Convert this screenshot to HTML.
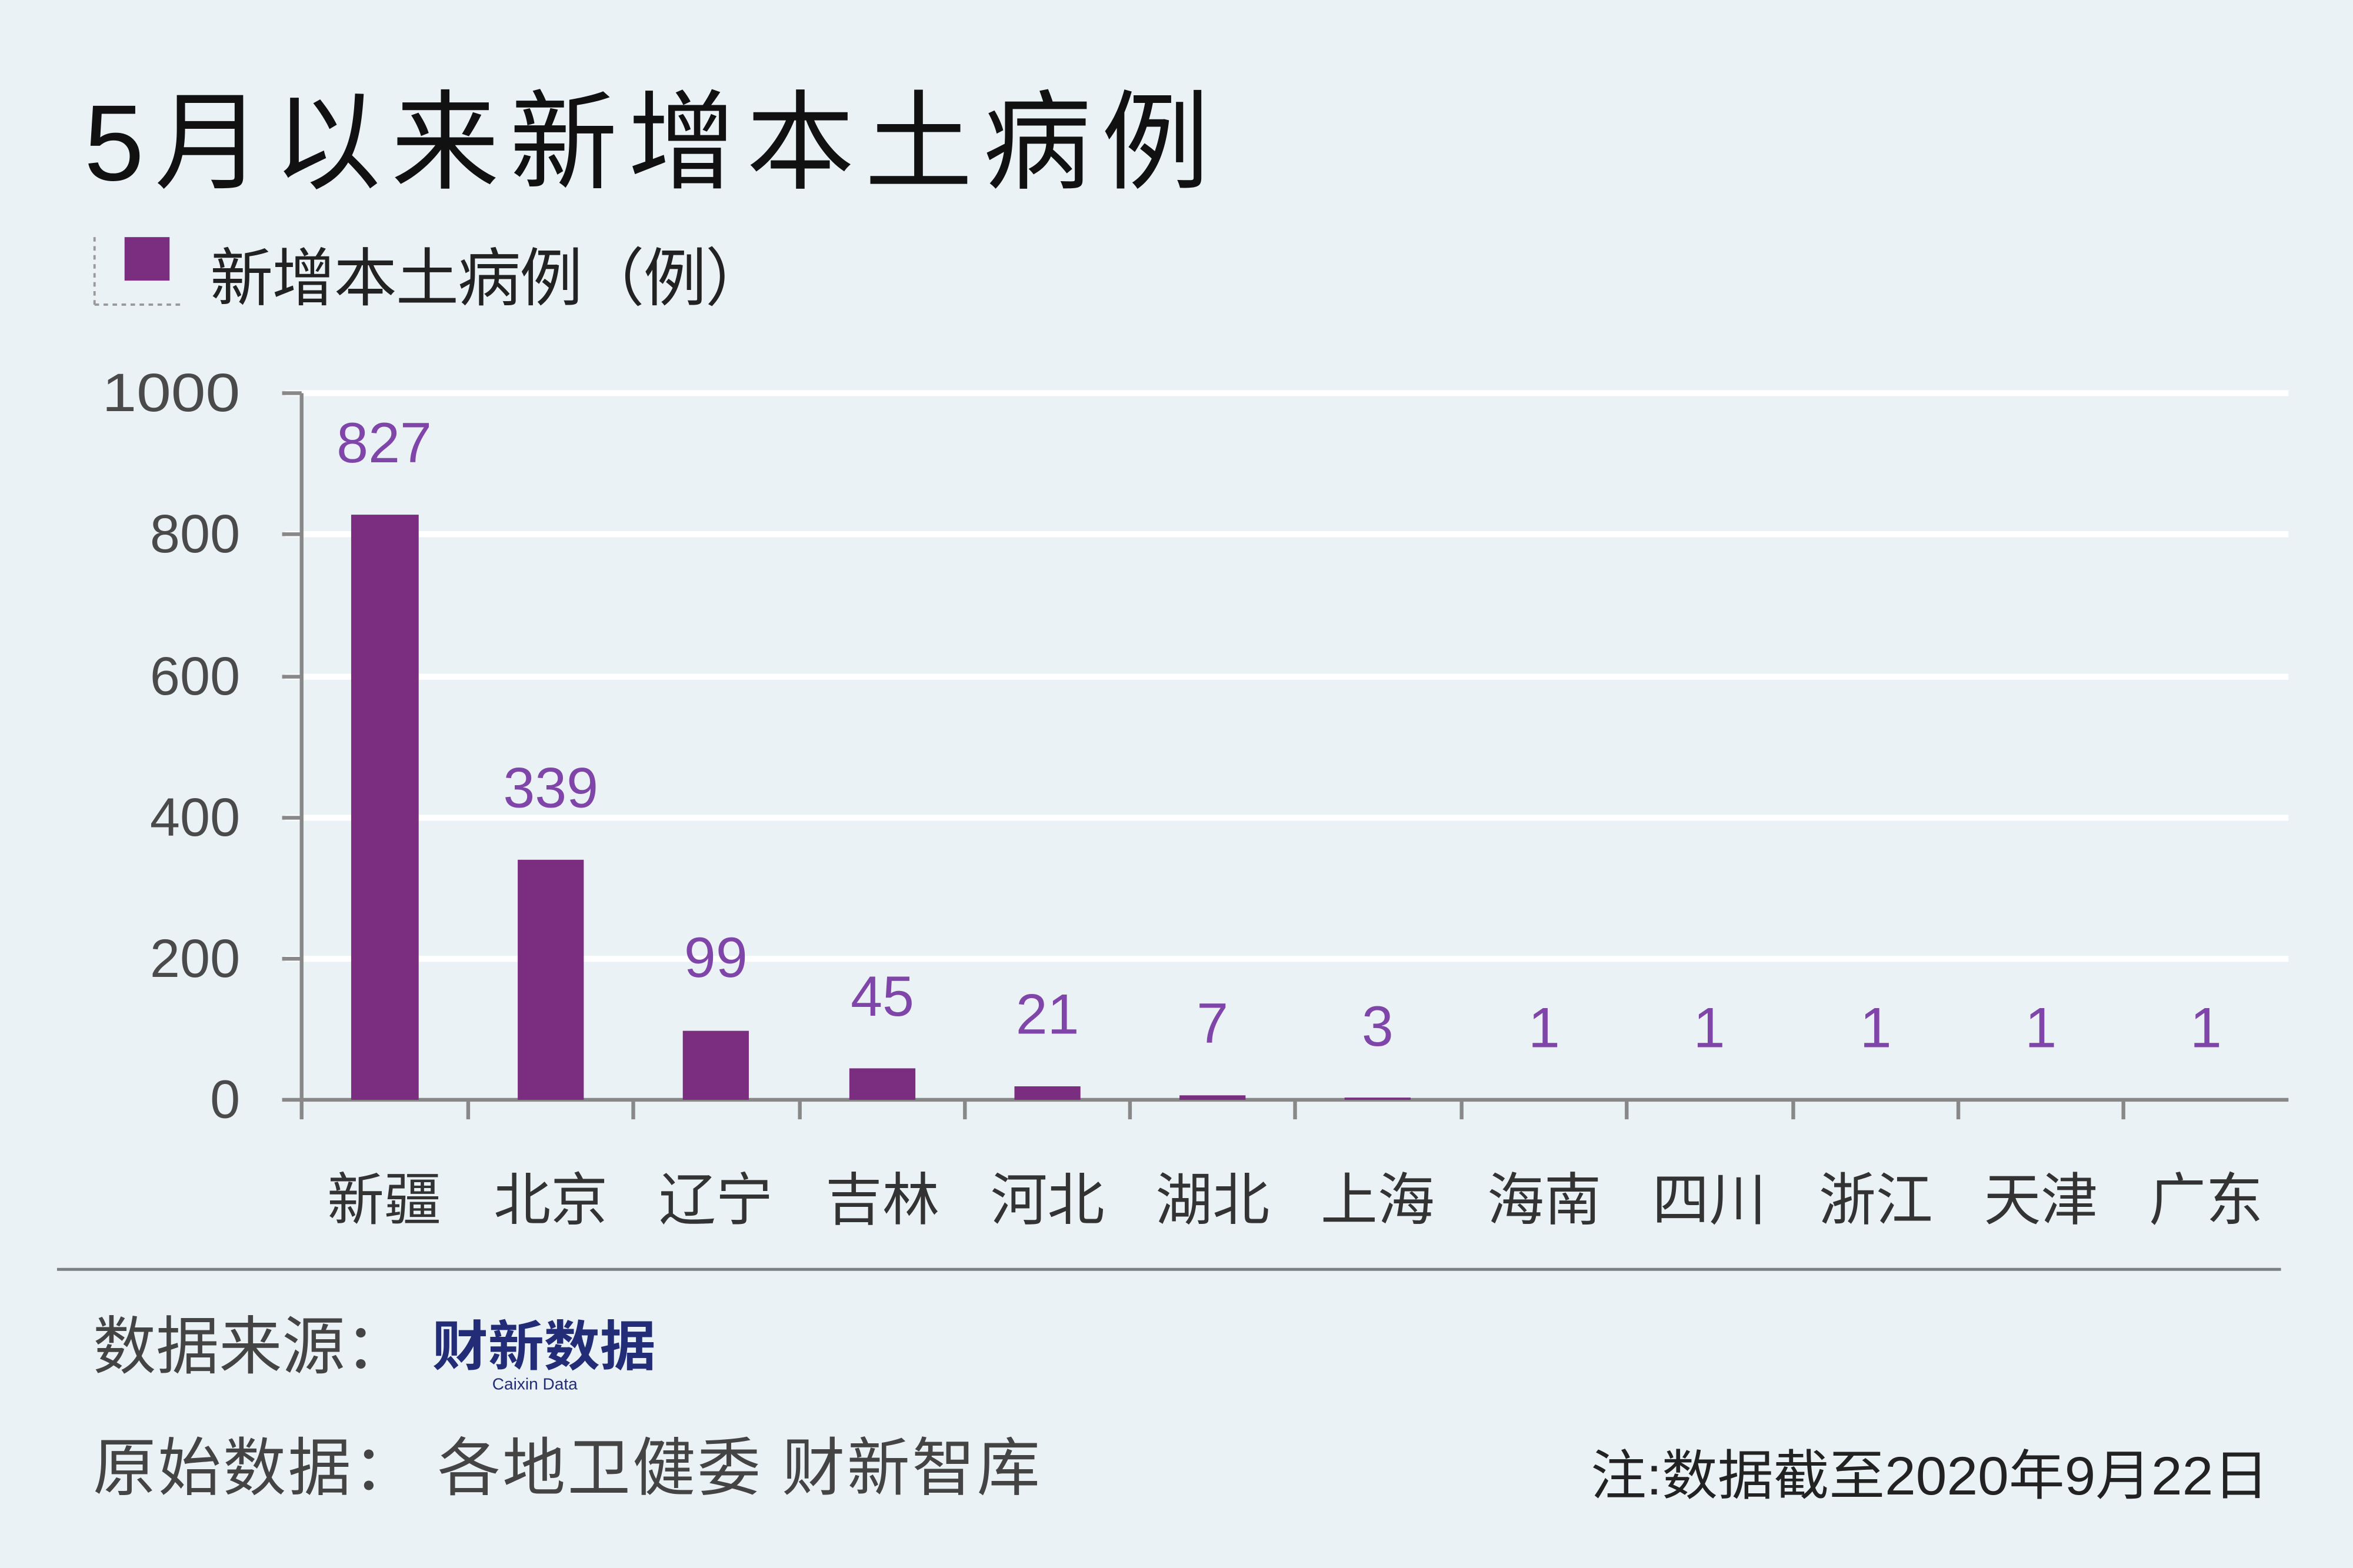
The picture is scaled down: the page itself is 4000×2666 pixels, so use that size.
<!DOCTYPE html>
<html><head><meta charset="utf-8"><style>
html,body{margin:0;padding:0;background:#eaf2f5;}
svg{display:block}
text{font-family:"Liberation Sans","Noto Sans CJK SC",sans-serif;}
</style></head><body>
<svg width="4000" height="2666" viewBox="0 0 1568 1045" xmlns="http://www.w3.org/2000/svg">
<rect width="1568" height="1045" fill="#eaf2f5"/>
<text x="56" y="120" font-size="72" fill="#111" textLength="750" lengthAdjust="spacing">5月以来新增本土病例</text>
<line x1="63" y1="158" x2="63" y2="203" stroke="#999" stroke-width="1.5" stroke-dasharray="3,3"/>
<line x1="63" y1="203" x2="123" y2="203" stroke="#999" stroke-width="1.5" stroke-dasharray="3,3"/>
<rect x="83" y="158" width="30" height="29" fill="#7b2d7f"/>
<text x="140" y="200" font-size="42" fill="#222" textLength="372" lengthAdjust="spacing">新增本土病例（例）</text>
<g stroke="#fff" stroke-width="4">
<line x1="190" y1="262" x2="1525" y2="262"/><line x1="190" y1="356" x2="1525" y2="356"/>
<line x1="190" y1="451" x2="1525" y2="451"/><line x1="190" y1="545" x2="1525" y2="545"/>
<line x1="190" y1="639" x2="1525" y2="639"/></g>
<g stroke="#888" stroke-width="2.5">
<line x1="201" y1="262" x2="201" y2="733"/>
<line x1="188" y1="262" x2="201" y2="262"/><line x1="188" y1="356" x2="201" y2="356"/>
<line x1="188" y1="451" x2="201" y2="451"/><line x1="188" y1="545" x2="201" y2="545"/>
<line x1="188" y1="639" x2="201" y2="639"/><line x1="188" y1="733" x2="201" y2="733"/>
<line x1="201" y1="733" x2="1525" y2="733"/>
<line x1="201" y1="733" x2="201" y2="746"/><line x1="312" y1="733" x2="312" y2="746"/>
<line x1="422" y1="733" x2="422" y2="746"/><line x1="533" y1="733" x2="533" y2="746"/>
<line x1="643" y1="733" x2="643" y2="746"/><line x1="753" y1="733" x2="753" y2="746"/>
<line x1="863" y1="733" x2="863" y2="746"/><line x1="974" y1="733" x2="974" y2="746"/>
<line x1="1084" y1="733" x2="1084" y2="746"/><line x1="1195" y1="733" x2="1195" y2="746"/>
<line x1="1305" y1="733" x2="1305" y2="746"/><line x1="1415" y1="733" x2="1415" y2="746"/>
</g>
<g font-size="36" fill="#4a4a4a" text-anchor="end">
<text x="160" y="274" textLength="92" lengthAdjust="spacingAndGlyphs">1000</text><text x="160" y="368">800</text><text x="160" y="463">600</text>
<text x="160" y="557">400</text><text x="160" y="651">200</text><text x="160" y="745">0</text></g>
<g fill="#7b2d7f">
<rect x="234" y="343" width="45" height="390"/>
<rect x="345" y="573" width="44" height="160"/>
<rect x="455" y="687" width="44" height="46"/>
<rect x="566" y="712" width="44" height="21"/>
<rect x="676" y="724" width="44" height="9"/>
<rect x="786" y="730" width="44" height="3"/>
<rect x="896" y="731.5" width="44" height="1.5"/>
</g>
<g font-size="38" fill="#7f45a8" text-anchor="middle">
<text x="256" y="308">827</text><text x="367" y="538">339</text><text x="477" y="651">99</text>
<text x="588" y="677">45</text><text x="698" y="689">21</text><text x="808" y="695">7</text>
<text x="918" y="697">3</text><text x="1029" y="698">1</text><text x="1139" y="698">1</text>
<text x="1250" y="698">1</text><text x="1360" y="698">1</text><text x="1470" y="698">1</text></g>
<g font-size="38" fill="#333" text-anchor="middle">
<text x="256" y="813">新疆</text><text x="367" y="813">北京</text><text x="477" y="813">辽宁</text>
<text x="588" y="813">吉林</text><text x="698" y="813">河北</text><text x="808" y="813">湖北</text>
<text x="918" y="813">上海</text><text x="1029" y="813">海南</text><text x="1139" y="813">四川</text>
<text x="1250" y="813">浙江</text><text x="1360" y="813">天津</text><text x="1470" y="813">广东</text></g>
<line x1="38" y1="846" x2="1520" y2="846" stroke="#7a8084" stroke-width="2"/>
<text x="62" y="912" font-size="42" fill="#444">数据来源：</text>
<text x="288" y="910" font-size="36" font-weight="bold" fill="#232c77" textLength="149" lengthAdjust="spacingAndGlyphs">财新数据</text>
<text x="328" y="926" font-size="11" fill="#232c77">Caixin Data</text>
<text x="62" y="993" font-size="42" fill="#444" textLength="631" lengthAdjust="spacing">原始数据： 各地卫健委 财新智库</text>
<text x="1060" y="996" font-size="36" fill="#222" textLength="452" lengthAdjust="spacingAndGlyphs">注:数据截至2020年9月22日</text>
</svg>
</body></html>
